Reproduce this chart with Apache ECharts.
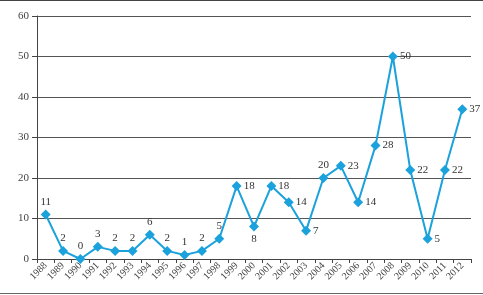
<!DOCTYPE html>
<html><head><meta charset="utf-8">
<script src="https://cdn.jsdelivr.net/npm/echarts@6/dist/echarts.min.js"></script>
<style>html,body{margin:0;padding:0;background:#fff}#c{width:483px;height:295px}</style>
</head><body><div id="c"></div>
<script>
const years = ['1988','1989','1990','1991','1992','1993','1994','1995','1996','1997','1998','1999','2000','2001','2002','2003','2004','2005','2006','2007','2008','2009','2010','2011','2012'];
const values = [11,2,0,3,2,2,6,2,1,2,5,18,8,18,14,7,20,23,14,28,50,22,5,22,37];
const labelPos = ['top','top','top','top','top','top','top','top','top','top','top','right','bottom','right','right','right','top','right','right','right','right','right','right','right','right'];
const yTicks = [0,10,20,30,40,50,60];

const chart = echarts.init(document.getElementById('c'), null, {renderer:'canvas'});
chart.setOption({
  animation:false,
  backgroundColor:'#fff',
  grid:{left:37,right:12,top:16,bottom:36},
  xAxis:{
    type:'category', data:years, boundaryGap:true,
    axisLine:{lineStyle:{color:'#444',width:1}},
    axisTick:{show:true,length:4,lineStyle:{color:'#444'}},
    axisLabel:{rotate:45,interval:0,fontSize:10,color:'#444',fontFamily:'Liberation Serif',margin:5}
  },
  yAxis:{
    type:'value', min:yTicks[0], max:yTicks[yTicks.length-1], interval:10,
    axisLine:{show:true,lineStyle:{color:'#444',width:1}},
    axisTick:{show:true,length:5,lineStyle:{color:'#444'}},
    axisLabel:{fontSize:11,color:'#444',fontFamily:'Liberation Serif',margin:8},
    splitLine:{lineStyle:{color:'#555',width:1}}
  },
  graphic:[
    {type:'line',shape:{x1:0,y1:0.5,x2:483,y2:0.5},style:{stroke:'#444',lineWidth:1}},
    {type:'line',shape:{x1:0,y1:293.5,x2:483,y2:293.5},style:{stroke:'#666',lineWidth:1}}
  ],
  series:[{
    type:'line',
    data:values.map((v,i)=>({value:v,label:{position:labelPos[i]}})),
    symbol:'diamond', symbolSize:10,
    lineStyle:{color:'#1ba1dc',width:2},
    itemStyle:{color:'#1ba1dc'},
    label:{show:true,fontSize:11,color:'#333',fontFamily:'Liberation Serif',distance:2}
  }]
});
</script></body></html>
